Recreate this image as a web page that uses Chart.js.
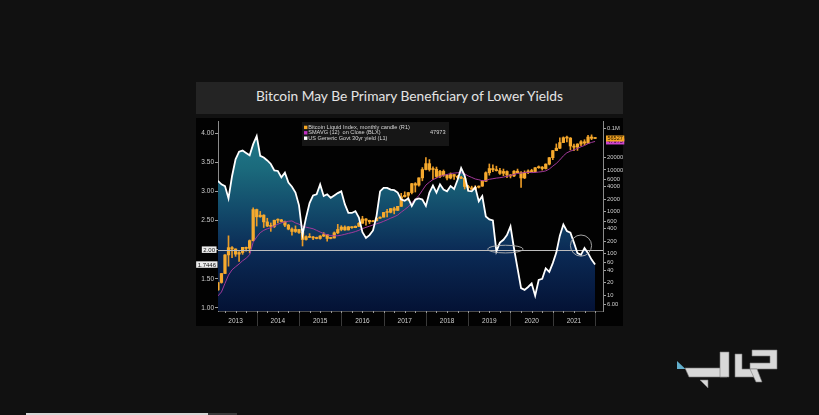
<!DOCTYPE html>
<html>
<head>
<meta charset="utf-8">
<script src="https://cdn.jsdelivr.net/npm/chart.js@4.4.1/dist/chart.umd.min.js"></script>
<style>
html,body{margin:0;padding:0;background:#111111;width:819px;height:415px;overflow:hidden;}
#titlebar{position:absolute;left:196px;top:82px;width:427px;height:32px;background:#242424;}
#title{position:absolute;left:196px;top:82px;width:427px;height:25px;line-height:25px;text-align:center;color:#e4e4e4;font-family:Lato,"Open Sans",sans-serif;white-space:nowrap;}
#body{position:absolute;left:196px;top:118px;width:427px;height:208px;background:#020202;}
#c{position:absolute;left:0;top:0;}
#logo{position:absolute;left:0;top:0;}
#bar1{position:absolute;left:26px;top:413px;width:182px;height:2px;background:#d6d6d6;}
#bar2{position:absolute;left:208px;top:413px;width:29px;height:2px;background:#3a3a3a;}
</style>
</head>
<body>
<div id="titlebar"></div>
<div id="title"><span id="titletext">Bitcoin May Be Primary Beneficiary of Lower Yields</span></div>
<div id="body"></div>
<canvas id="c" width="819" height="415"></canvas>
<svg id="logo" width="819" height="415">
  <polygon fill="#62aecb" points="677,361 685.5,369 677,369"/>
  <g fill="#d8d8d8" stroke="#7a7a7a" stroke-width="0.6">
    <polygon points="685,368 727,368 727,377 689,377"/>
    <polygon points="720,352 729,352 729,377 720,377"/>
    <polygon points="735,354 742,354 742,369 757,369 757,377 735,377"/>
    <polygon points="752,350 777,350 777,369 750,369 750,363 770,363 770,356 752,356"/>
    <polygon points="750,369 757,369 762,382 756,382"/>
    <polygon points="700,380 708,380 708,388"/>
  </g>
</svg>
<div id="bar1"></div><div id="bar2"></div>
<script>
// ---------------- DATA ----------------
const startYear = 2013;                       // first monthly period (Jan 2013)
const yearLabels = ['2013','2014','2015','2016','2017','2018','2019','2020','2021'];

// US Generic Govt 30yr yield, month-end (L1)
const yieldValues = [
  3.18,3.12,3.09,2.88,3.26,3.55,3.68,3.70,3.66,3.62,3.81,3.95,
  3.61,3.58,3.53,3.47,3.36,3.35,3.24,3.32,3.15,3.08,2.98,2.76,
  2.26,2.55,2.80,2.93,2.95,3.12,2.92,2.95,2.89,2.93,2.97,3.00,
  2.78,2.63,2.63,2.66,2.55,2.30,2.20,2.25,2.33,2.58,3.00,3.06,
  3.06,3.03,3.02,2.98,2.86,2.84,2.88,2.75,2.86,2.88,2.86,2.75,
  2.98,3.10,2.98,3.12,3.03,3.00,3.09,3.04,3.20,3.40,3.27,3.01,
  3.00,3.07,2.83,2.92,2.57,2.52,2.50,1.97,2.12,2.17,2.25,2.40,
  2.02,1.68,1.34,1.31,1.36,1.42,1.21,1.48,1.50,1.68,1.62,1.77,
  1.95,2.24,2.43,2.32,2.29,2.12,1.94,1.91,2.03,1.94,1.83,1.7446
];

// Bitcoin Liquid Index monthly candles (R1)
const btcOpen = [
  13.5,20.4,33.4,93,139,129,97,106,141,133,204,1130,
  757,830,573,457,447,628,640,586,479,386,338,378,
  320,217,254,244,236,230,263,284,230,236,314,377,
  430,368,437,416,448,531,673,624,575,609,700,742,
  963,970,1190,1080,1348,2286,2480,2875,4703,4338,6468,10233,
  14156,10221,10397,6973,9240,7494,6404,7780,7037,6625,6317,4017,
  3742,3457,3854,4105,5350,8574,10817,10085,9631,8293,9199,7569,
  7194,9350,8600,6438,8658,9461,9137,11323,11680,10784,13781,19625,
  29001,33114,45137,58918,57750,37332,35041,41626,47166,43790,61318,57005
];
const btcHigh = [
  20.4,33.4,95,266,148,130,111,141,143,212,1242,1160,
  1020,850,700,540,630,680,660,600,500,414,460,382,
  320,265,300,260,248,268,318,285,245,330,500,465,
  460,445,440,460,550,780,690,630,625,720,752,970,
  1150,1200,1290,1350,2760,3000,2900,4760,4980,6470,11400,19800,
  17700,11800,11700,9750,10000,7800,8500,7780,7400,7000,6600,4300,
  4100,4200,4150,5600,9000,13900,13200,12300,10900,10500,9500,7750,
  9600,10500,9200,9500,10000,10400,11450,12480,12100,14000,19900,29300,
  41900,58300,61700,64800,59500,41300,42400,50500,52900,67000,69000,59000
];
const btcLow = [
  13.2,19.6,33,50,80,86,65,96,115,104,199,455,
  740,420,440,340,420,540,566,440,370,275,320,305,
  152,210,240,215,225,220,254,198,225,235,300,350,
  360,365,400,415,440,530,480,520,590,605,690,750,
  750,940,890,1070,1340,2250,1830,2670,2970,4110,5500,10000,
  9400,5900,6600,6500,7000,5750,6100,5900,6100,6200,3500,3150,
  3400,3400,3700,4050,5300,7500,9100,9400,7800,7300,6500,6430,
  6900,8500,3800,6200,8100,8900,8900,10900,9900,10500,13200,17600,
  28800,32300,45000,47000,30000,28800,29300,37300,39600,43300,53000,55800
];
const btcClose = [
  20.4,33.4,93,139,129,97,106,141,133,204,1130,757,
  830,573,457,447,628,640,586,479,386,338,378,320,
  217,254,244,236,230,263,284,230,236,314,377,430,
  368,437,416,448,531,673,624,575,609,700,742,963,
  970,1190,1080,1348,2286,2480,2875,4703,4338,6468,10233,14156,
  10221,10397,6973,9240,7494,6404,7780,7037,6625,6317,4017,3742,
  3457,3854,4105,5350,8574,10817,10085,9631,8293,9199,7569,7194,
  9350,8600,6438,8658,9461,9137,11323,11680,10784,13781,19625,29001,
  33114,45137,58918,57750,37332,35041,41626,47166,43790,61318,57005,56527
];
// SMAVG (12) on Close (BLX)
const smaValues = [
  9.7,12.1,19.4,30.6,40.9,48.4,56.5,67.4,77.4,93.5,186.6,248.6,
  316,361,391,417,459,504,544,572,593,604,542,505,
  454,428,410,392,359,328,302,282,269,267,267,276,
  289,304,318,336,361,395,424,452,484,516,546,591,
  641,703,759,834,980,1131,1318,1662,1973,2454,3245,4344,
  5115,5882,6373,7031,7465,7792,8201,8395,8586,8573,8055,7187,
  6624,6078,5839,5515,5605,5973,6165,6381,6520,6760,7056,7344,
  7835,8231,8425,8701,8775,8635,8738,8909,9116,9498,10503,12320,
  14300,17345,21718,25809,28132,30291,32816,35773,38523,42485,45600,47973
];

const leftTicks = [1.0,1.5,2.0,2.5,3.0,3.5,4.0];
const rightTicks = [6,10,20,40,60,100,200,400,600,1000,2000,4000,6000,10000,20000,100000];
const refLevel = 2.0;
const legendItems = [
  {text:'Bitcoin Liquid Index, monthly candle (R1)', color:'#f5a623', value:''},
  {text:'SMAVG (12)  on Close (BLX)', color:'#c02fc0', value:'47973'},
  {text:'US Generic Govt 30yr yield (L1)', color:'#ffffff', value:''}
];
// annotations (data units)
const ellipseNote = {x:2019.88, y:2.01, rx:0.42, ry:0.066};
const circleNote = {x:2021.667, y:2.07, rx:0.25};

// ---------------- CHART ----------------
const monthEnd = i => startYear + (i + 1) / 12;   // Bloomberg plots each period at its end
const pts = vals => vals.map((v, i) => ({x: monthEnd(i), y: v}));

function fillGradient(c) {
  const chart = c.chart, a = chart.chartArea;
  if (!a) return 'rgba(0,0,0,0)';
  const g = chart.ctx.createLinearGradient(0, a.top, 0, a.bottom);
  g.addColorStop(0, '#23808f');
  g.addColorStop(0.25, '#1b6a7c');
  g.addColorStop(0.45, '#134d6c');
  g.addColorStop(0.68, '#0b2b56');
  g.addColorStop(1, '#041235');
  return g;
}

const LINE_IDX = 4;
const FONT = '"Liberation Sans", Arial, sans-serif';

function box(ctx, text, x, yc, align, bg, fg, size) {
  ctx.font = size + 'px ' + FONT;
  const w = ctx.measureText(text).width + 3;
  const h = size + 0.5;
  const left = align === 'right' ? x - w : x;
  ctx.fillStyle = bg;
  ctx.fillRect(left, yc - h / 2, w, h);
  ctx.fillStyle = fg;
  ctx.textAlign = 'left';
  ctx.textBaseline = 'middle';
  ctx.fillText(text, left + 1.5, yc + 0.3);
}

const overlay = {
  id: 'overlay',
  beforeDatasetDraw(chart, args) {
    if (args.index !== LINE_IDX) return;
    const {ctx, chartArea: a, scales} = chart;
    const y = Math.round(scales.yL.getPixelForValue(refLevel)) + 0.5;
    ctx.save();
    ctx.strokeStyle = '#bdbdbd';
    ctx.lineWidth = 1;
    ctx.beginPath(); ctx.moveTo(a.left, y); ctx.lineTo(a.right, y); ctx.stroke();
    ctx.restore();
  },
  afterDraw(chart) {
    const {ctx, chartArea: a, scales} = chart;
    const xs = scales.x, yL = scales.yL, yR = scales.yR;
    ctx.save();
    // year separators
    ctx.strokeStyle = '#3a3a3a'; ctx.lineWidth = 1;
    for (let yr = startYear + 1; yr <= startYear + yearLabels.length; yr++) {
      const x = Math.round(xs.getPixelForValue(yr)) + 0.5;
      ctx.beginPath(); ctx.moveTo(x, a.bottom); ctx.lineTo(x, a.bottom + 15); ctx.stroke();
    }
    // quarter ticks
    ctx.strokeStyle = '#9a9a9a';
    for (let q = startYear * 4 + 1; q < (startYear + yearLabels.length + 1) * 4; q++) {
      const v = q / 4;
      if (v <= xs.min || v >= xs.max) continue;
      const x = Math.round(xs.getPixelForValue(v)) + 0.5;
      ctx.beginPath(); ctx.moveTo(x, a.bottom); ctx.lineTo(x, a.bottom + 2); ctx.stroke();
    }
    // annotations
    ctx.strokeStyle = '#b5b5b5'; ctx.lineWidth = 0.9;
    const ex = xs.getPixelForValue(ellipseNote.x), ey = yL.getPixelForValue(ellipseNote.y);
    const erx = xs.getPixelForValue(ellipseNote.x + ellipseNote.rx) - ex;
    const ery = ey - yL.getPixelForValue(ellipseNote.y + ellipseNote.ry);
    ctx.beginPath(); ctx.ellipse(ex, ey, erx, ery, 0, 0, Math.PI * 2); ctx.stroke();
    const cx = xs.getPixelForValue(circleNote.x), cy = yL.getPixelForValue(circleNote.y);
    const cr = xs.getPixelForValue(circleNote.x + circleNote.rx) - cx;
    ctx.beginPath(); ctx.arc(cx, cy, cr, 0, Math.PI * 2); ctx.stroke();
    // axis value boxes
    box(ctx, refLevel.toFixed(2), a.left - 1.5, yL.getPixelForValue(refLevel), 'right', '#ececec', '#111', 6);
    const lastY = yieldValues[yieldValues.length - 1];
    box(ctx, String(lastY), a.left - 0.5, yL.getPixelForValue(lastY), 'right', '#ececec', '#111', 6);
    const lastS = smaValues[smaValues.length - 1];
    const lastC = btcClose[btcClose.length - 1];
    box(ctx, String(lastS), a.right + 3, yR.getPixelForValue(lastS), 'left', '#cf45cf', '#1a001a', 5.5);
    box(ctx, String(lastC), a.right + 3, yR.getPixelForValue(lastC), 'left', '#f5a623', '#1a1000', 5.5);
    // legend
    ctx.fillStyle = 'rgba(24,24,24,0.92)';
    ctx.fillRect(302, 122, 147, 24);
    ctx.font = '5.6px ' + FONT;
    ctx.textBaseline = 'middle';
    legendItems.forEach((it, i) => {
      const yc = 127.5 + i * 5.4;
      ctx.fillStyle = it.color;
      ctx.fillRect(304, yc - 1.8, 3.4, 3.4);
      ctx.fillStyle = '#d6d6d6';
      ctx.textAlign = 'left';
      ctx.fillText(it.text, 308.2, yc);
      if (it.value) { ctx.textAlign = 'right'; ctx.fillText(it.value, 445.5, yc); }
    });
    ctx.restore();
  }
};

new Chart(document.getElementById('c'), {
  type: 'line',
  data: {
    datasets: [
      {type: 'line', data: pts(yieldValues), xAxisID: 'x', yAxisID: 'yL', fill: 'start',
       backgroundColor: fillGradient, borderWidth: 0, borderColor: 'rgba(0,0,0,0)', pointRadius: 0, order: 10},
      {type: 'bar', data: btcHigh.map((h, i) => ({x: monthEnd(i), y: [btcLow[i], h]})), xAxisID: 'x', yAxisID: 'yR',
       backgroundColor: '#e99a26', barThickness: 1, grouped: false, order: 8},
      {type: 'bar', data: btcOpen.map((o, i) => ({x: monthEnd(i), y: [o, btcClose[i]]})), xAxisID: 'x', yAxisID: 'yR',
       backgroundColor: '#f6aa2e', borderWidth: 0, barThickness: 2.6, minBarLength: 1, grouped: false, order: 7},
      {type: 'line', data: pts(smaValues), xAxisID: 'x', yAxisID: 'yR', borderColor: '#a3399b', borderWidth: 1,
       pointRadius: 0, fill: false, order: 6},
      {type: 'line', data: pts(yieldValues), xAxisID: 'x', yAxisID: 'yL', borderColor: '#ffffff', borderWidth: 1.8,
       pointRadius: 0, fill: false, order: 1}
    ]
  },
  options: {
    responsive: false,
    animation: false,
    events: [],
    font: {family: FONT},
    layout: {padding: {left: 194, right: 192, top: 121, bottom: 89}},
    plugins: {legend: {display: false}, tooltip: {enabled: false}},
    scales: {
      x: {
        type: 'linear', min: 2013.085, max: 2022.187, offset: false,
        afterBuildTicks: s => { s.ticks = yearLabels.map((y, i) => ({value: startYear + i + 0.5})); },
        ticks: {callback: (v, i) => yearLabels[i], color: '#cfcfcf', font: {family: FONT, size: 6.5}, padding: 6, maxRotation: 0, autoSkip: false},
        grid: {display: false, drawTicks: false},
        border: {display: true, color: '#4a4a4a'},
        afterFit: s => { s.height = 15; }
      },
      yL: {
        type: 'linear', position: 'left', min: 0.948, max: 4.207,
        afterBuildTicks: s => { s.ticks = leftTicks.map(v => ({value: v})); },
        ticks: {callback: v => (v === refLevel ? '' : v.toFixed(2)), color: '#cfcfcf', font: {family: FONT, size: 6.5}, padding: 1, autoSkip: false},
        grid: {drawOnChartArea: false, drawTicks: true, tickLength: 3, color: '#a0a0a0'},
        border: {display: true, color: '#8a8a8a'},
        afterFit: s => { s.width = 24; }
      },
      yR: {
        type: 'logarithmic', position: 'right', min: 4.24, max: 148000,
        afterBuildTicks: s => { s.ticks = rightTicks.map(v => ({value: v})); },
        ticks: {callback: v => (v === 100000 ? '0.1M' : v === 6 ? '6.00' : String(v)), color: '#cfcfcf', font: {family: FONT, size: 5.8}, padding: 1, autoSkip: false},
        grid: {drawOnChartArea: false, drawTicks: true, tickLength: 3, color: '#a0a0a0'},
        border: {display: true, color: '#8a8a8a'},
        afterFit: s => { s.width = 24; }
      }
    }
  },
  plugins: [overlay]
});

// fit title width to the reference
(function () {
  const t = document.getElementById('titletext');
  t.style.fontSize = '13.5px';
  const w = t.getBoundingClientRect().width;
  t.style.fontSize = (13.5 * 307 / w).toFixed(2) + 'px';
})();
</script>
</body>
</html>
